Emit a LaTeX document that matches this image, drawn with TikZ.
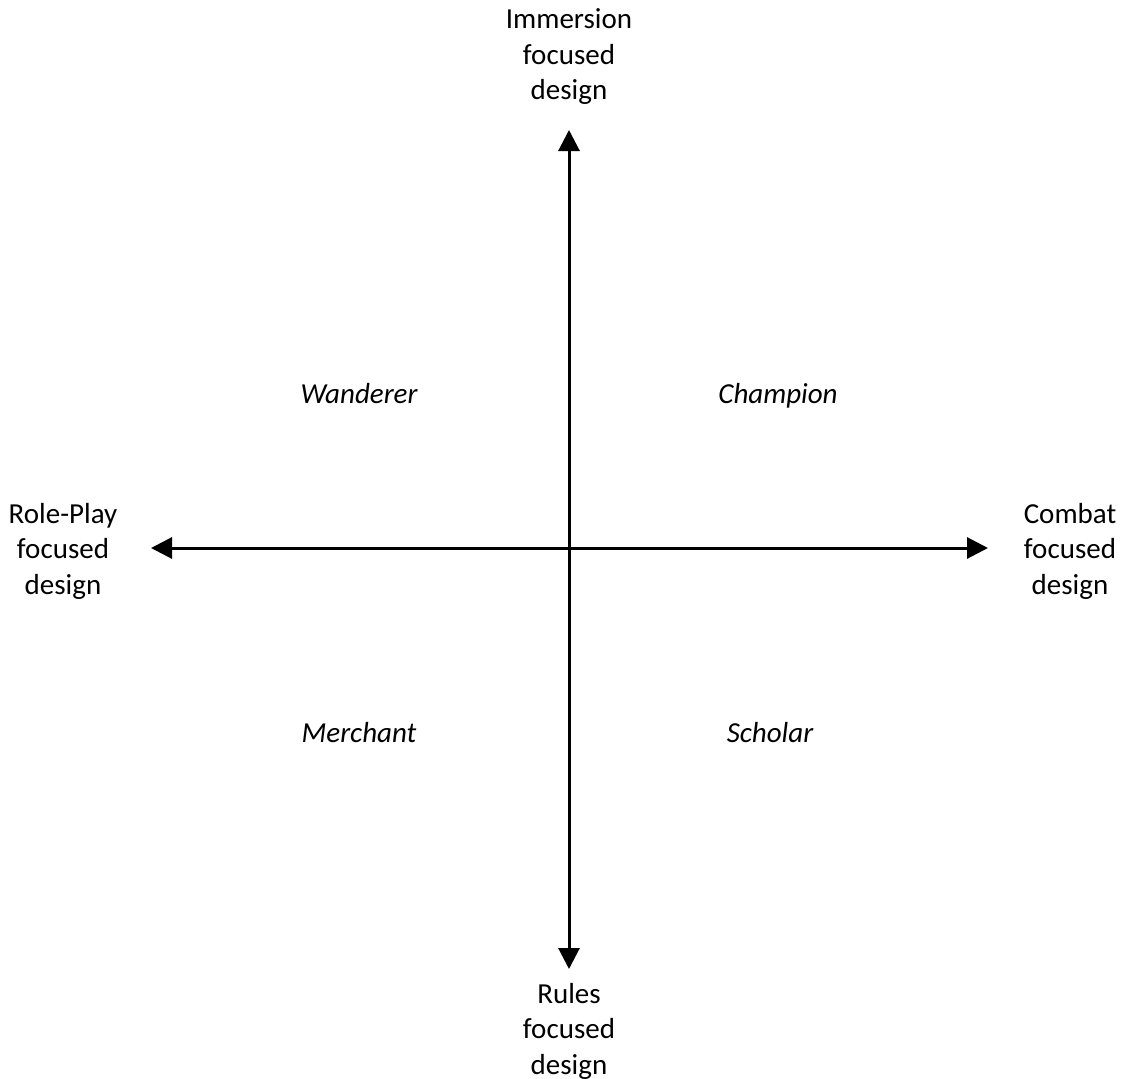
\documentclass[tikz,border=0pt]{standalone}
\usepackage{fontspec}
\setmainfont{Carlito}
\usetikzlibrary{arrows.meta}
\begin{document}
\begin{tikzpicture}[x=1pt,y=-1pt,
  axis/.style={line width=3pt,{Triangle[length=21pt,width=21pt]}-{Triangle[length=21pt,width=21pt]}},
  pole/.style={align=center,font=\fontsize{29}{35.5}\selectfont,inner sep=0pt},
  kind/.style={font=\fontsize{29}{35.5}\selectfont\itshape,inner sep=0pt,anchor=base}]
\useasboundingbox (0,0) rectangle (1125,1079);
% axis end points
\coordinate (top) at (569,130);
\coordinate (bottom) at (569,969);
\coordinate (left) at (151,548);
\coordinate (right) at (988,548);
\draw[axis] (top) -- (bottom);
\draw[axis] (left) -- (right);
% pole labels
\node[pole] (immersion) at (569,57) {Immersion\\focused\\design};
\node[pole] (rules) at (569,1031) {Rules\\focused\\design};
\node[pole] (roleplay) at (63,551) {Role-Play\\focused\\design};
\node[pole] (combat) at (1070,551) {Combat\\focused\\design};
% quadrant labels
\node[kind] (wanderer) at (359,403) {Wanderer};
\node[kind] (champion) at (778,403) {Champion};
\node[kind] (merchant) at (359,742) {Merchant};
\node[kind] (scholar) at (770,742) {Scholar};
\end{tikzpicture}
\end{document}
